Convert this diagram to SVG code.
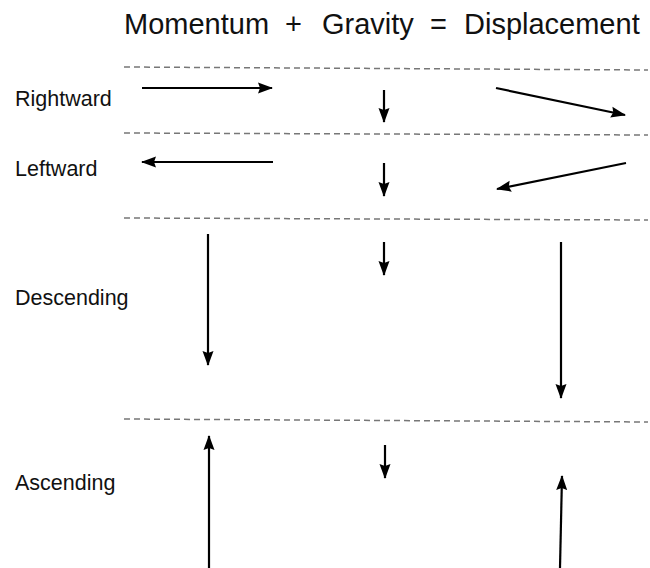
<svg xmlns="http://www.w3.org/2000/svg" width="650" height="568" viewBox="0 0 650 568">
<style>
text{font-family:"Liberation Sans",Arial,sans-serif;fill:#111}
.t{font-size:29px}
.l{font-size:21.5px}
.d{stroke:#777;stroke-width:1.5;stroke-dasharray:6 4;fill:none}
.a{stroke:#000;stroke-width:2.2;fill:none;marker-end:url(#h)}
</style>
<defs>
<marker id="h" markerUnits="userSpaceOnUse" markerWidth="15" markerHeight="12" refX="14" refY="5.5" orient="auto" viewBox="0 0 15 11">
<path d="M0,0 L15,5.5 L0,11 L2,5.5 Z" fill="#000"/>
</marker>
</defs>
<rect width="650" height="568" fill="#fff"/>
<g id="title">
<text class="t" x="124" y="34">Momentum</text>
<text class="t" x="285" y="34">+</text>
<text class="t" x="322" y="34">Gravity</text>
<text class="t" x="430" y="34">=</text>
<text class="t" x="464" y="34">Displacement</text>
</g>
<g id="dividers">
<line class="d" x1="124" y1="67" x2="648" y2="70"/>
<line class="d" x1="124" y1="133" x2="648" y2="135"/>
<line class="d" x1="124" y1="218" x2="648" y2="220"/>
<line class="d" x1="124" y1="419" x2="648" y2="422"/>
</g>
<g id="rightward">
<text class="l" x="15" y="106">Rightward</text>
</g>
<g id="leftward">
<text class="l" x="15" y="176">Leftward</text>
</g>
<g id="descending">
<text class="l" x="15" y="305">Descending</text>
</g>
<g id="ascending">
<text class="l" x="15" y="490">Ascending</text>
</g>
<g id="connectors">
<line class="a" x1="142" y1="88" x2="272" y2="88"/>
<line class="a" x1="384" y1="90" x2="384" y2="122"/>
<line class="a" x1="496" y1="88" x2="625" y2="115"/>
<line class="a" x1="273" y1="162" x2="142" y2="162"/>
<line class="a" x1="384" y1="163" x2="384" y2="196"/>
<line class="a" x1="626" y1="163" x2="497" y2="189"/>
<line class="a" x1="208" y1="234" x2="208" y2="365"/>
<line class="a" x1="384" y1="242" x2="384" y2="275"/>
<line class="a" x1="561" y1="242" x2="561" y2="398"/>
<line class="a" x1="209" y1="568" x2="209" y2="436"/>
<line class="a" x1="385" y1="445" x2="385" y2="478"/>
<line class="a" x1="560" y1="568" x2="562" y2="476"/>
</g>
</svg>
